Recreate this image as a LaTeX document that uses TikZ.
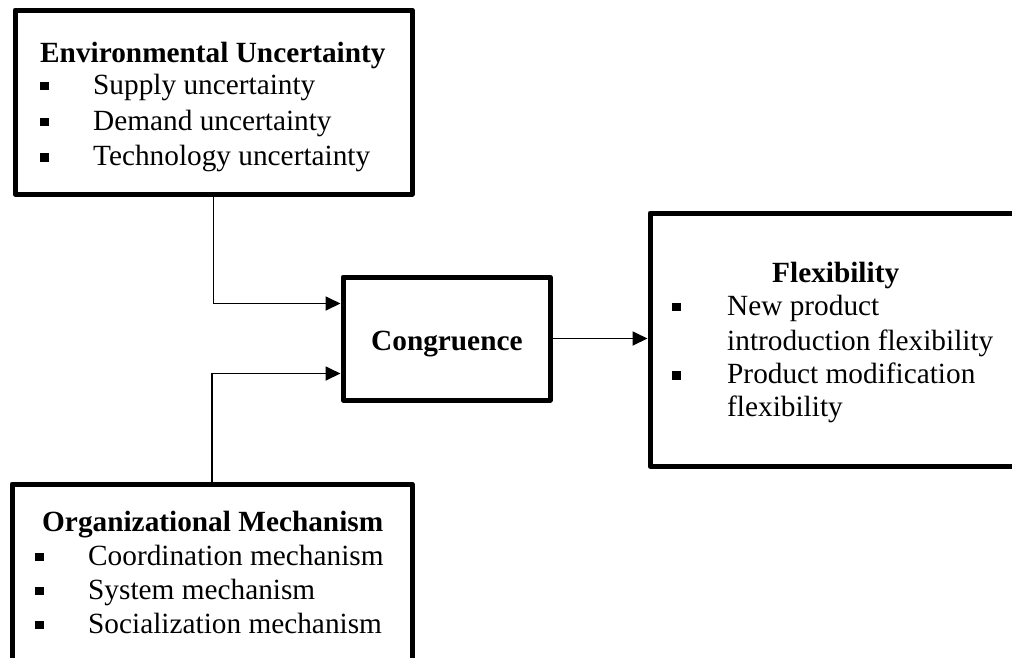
\documentclass[tikz,border=0pt]{standalone}
\usepackage{fontspec}
\setmainfont{Liberation Serif}
\usetikzlibrary{arrows.meta}
\newcommand{\mybul}[1]{\makebox[#1][l]{\rule[4pt]{8.5pt}{8.5pt}}}
\tikzset{
  box/.style={draw=black, line width=5pt, line join=round, fill=none, inner sep=0pt, rectangle},
  txt/.style={anchor=base west, inner sep=0pt, font=\fontsize{29.3}{35}\selectfont},
  btxt/.style={txt, font=\fontsize{29.3}{35}\selectfont\bfseries},
  conn/.style={draw=black, line width=1.8pt, -{Triangle[length=15pt,width=14pt]}}
}
\begin{document}
\begin{tikzpicture}[x=1pt,y=-1pt]
\useasboundingbox (0,0) rectangle (1012,657);
\clip (0,0) rectangle (1012,657);
\fill[white] (0,0) rectangle (1012,657);
% boxes
\node[box, minimum width=397pt, minimum height=184pt] (env) at (213.5,102) {};
\node[box, minimum width=400pt, minimum height=216pt] (org) at (212,592) {};
\node[box, minimum width=207pt, minimum height=123pt] (cong) at (446.5,338.5) {};
\node[box, minimum width=390pt, minimum height=253pt] (flex) at (845,339.5) {};
% environmental text
\node[btxt] (envt) at (40,62.5) {Environmental Uncertainty};
\node[txt] (env1) at (40,94) {\mybul{53pt}Supply uncertainty};
\node[txt] (env2) at (40,130) {\mybul{53pt}Demand uncertainty};
\node[txt] (env3) at (40,165.5) {\mybul{53pt}Technology uncertainty};
% organizational text
\node[btxt] (orgt) at (42,531) {Organizational Mechanism};
\node[txt] (org1) at (35,565) {\mybul{53pt}Coordination mechanism};
\node[txt] (org2) at (35,599) {\mybul{53pt}System mechanism};
\node[txt] (org3) at (35,633) {\mybul{53pt}Socialization mechanism};
% congruence
\node[btxt] (congt) at (371,350) {Congruence};
% flexibility text
\node[btxt] (flext) at (772,282) {Flexibility};
\node[txt] (flex1) at (672,315) {\mybul{55pt}New product};
\node[txt] (flex1b) at (727,350) {introduction flexibility};
\node[txt] (flex2) at (672,383.5) {\mybul{55pt}Product modification};
\node[txt] (flex2b) at (727,416) {flexibility};
% connectors
\draw[conn] (env.south) |- ([yshift=35pt]cong.west);
\draw[conn] (org.north) |- ([yshift=-35pt]cong.west);
\draw[conn] (cong.east) -- (flex.west |- cong.east);
\end{tikzpicture}
\end{document}
